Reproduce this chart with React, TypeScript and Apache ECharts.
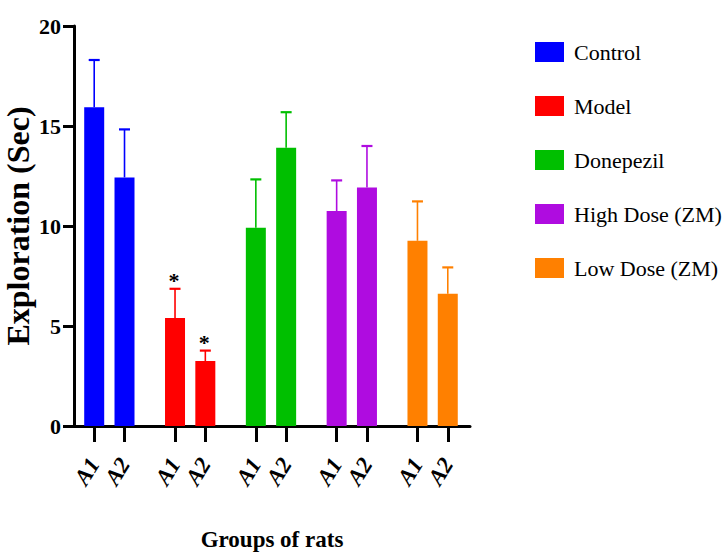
import React, { useEffect, useRef } from "react";
import * as echarts from "echarts";

const groups = ["Control", "Model", "Donepezil", "High Dose (ZM)", "Low Dose (ZM)"];
const subLabels = ["A1", "A2"];
const colors = ["#0000FF", "#FF0000", "#00BF00", "#AF0CE0", "#FF8000"];

// means for A1, A2 per group
const controlMean = [15.94, 12.43];
const modelMean = [5.4, 3.25];
const donepezilMean = [9.91, 13.91];
const highDoseMean = [10.75, 11.93];
const lowDoseMean = [9.26, 6.61];

// upper error (SEM) for A1, A2 per group
const controlErr = [2.36, 2.4];
const modelErr = [1.46, 0.52];
const donepezilErr = [2.42, 1.78];
const highDoseErr = [1.53, 2.07];
const lowDoseErr = [1.97, 1.32];

// significance marks
const controlSig = ["", ""];
const modelSig = ["*", "*"];
const donepezilSig = ["", ""];
const highDoseSig = ["", ""];
const lowDoseSig = ["", ""];

const yTicks = [0, 5, 10, 15, 20];

const allMeans = [controlMean, modelMean, donepezilMean, highDoseMean, lowDoseMean];
const allErrs = [controlErr, modelErr, donepezilErr, highDoseErr, lowDoseErr];
const allSigs = [controlSig, modelSig, donepezilSig, highDoseSig, lowDoseSig];

// x positions on a value axis: pairs within a group 3 apart, groups 8 apart
const posOf = (g: number, s: number) => 2 + 8 * g + 3 * s;

export default function App() {
  const ref = useRef<HTMLDivElement>(null);

  useEffect(() => {
    if (!ref.current) return;
    const chart = echarts.init(ref.current, null, { renderer: "svg" });

    const positions: number[] = [];
    const labelAt: Record<number, string> = {};
    const errData: number[][] = [];
    const sigList: string[] = [];
    groups.forEach((_, g) => {
      subLabels.forEach((lab, s) => {
        const p = posOf(g, s);
        positions.push(p);
        labelAt[p] = lab;
        errData.push([p, allMeans[g][s], allErrs[g][s], g]);
        sigList.push(allSigs[g][s]);
      });
    });

    const barSeries = groups.map((name, g) => ({
      name,
      type: "bar",
      barWidth: 20,
      barGap: "-100%",
      itemStyle: { color: colors[g] },
      data: subLabels.map((_, s) => [posOf(g, s), allMeans[g][s]]),
      z: 2,
    }));

    const font = "'Liberation Serif', 'Times New Roman', serif";

    chart.setOption({
      animation: false,
      grid: {
        left: 74,
        top: 26,
        width: 396,
        height: 400,
        containLabel: false,
        outerBoundsMode: "none",
      },
      legend: {
        data: groups,
        orient: "vertical",
        left: 530,
        top: 36,
        itemWidth: 29,
        itemHeight: 20,
        itemGap: 32,
        icon: "rect",
        selectedMode: false,
        textStyle: {
          fontFamily: font,
          fontSize: 22,
          color: "#000",
          lineHeight: 20,
          padding: [0, 0, 0, 5],
        },
      },
      xAxis: {
        type: "value",
        min: 0,
        max: 39.2,
        name: "Groups of rats",
        nameLocation: "middle",
        nameGap: 102,
        nameMoveOverlap: false,
        nameTextStyle: { fontFamily: font, fontWeight: "bold", fontSize: 23, color: "#000" },
        splitLine: { show: false },
        axisLine: { show: true, onZero: false, lineStyle: { color: "#000", width: 3 } },
        axisTick: { show: true, customValues: positions, length: 16, lineStyle: { color: "#000", width: 3 } },
        axisLabel: {
          customValues: positions,
          formatter: (v: number) => labelAt[Math.round(v)] ?? "",
          rotate: 58,
          margin: 34,
          fontFamily: font,
          fontWeight: "bold",
          fontStyle: "italic",
          fontSize: 23,
          color: "#000",
        },
      },
      yAxis: {
        type: "value",
        min: 0,
        max: 20,
        interval: 5,
        name: "Exploration (Sec)",
        nameLocation: "middle",
        nameGap: 40,
        nameMoveOverlap: false,
        nameTextStyle: { fontFamily: font, fontWeight: "bold", fontSize: 32, color: "#000" },
        splitLine: { show: false },
        axisLine: { show: true, lineStyle: { color: "#000", width: 3 } },
        axisTick: { show: true, length: 11, lineStyle: { color: "#000", width: 3 } },
        axisLabel: {
          margin: 13,
          fontFamily: font,
          fontWeight: "bold",
          fontSize: 22,
          color: "#000",
          customValues: yTicks,
        },
      },
      series: [
        ...barSeries,
        {
          type: "custom",
          name: "errors",
          z: 3,
          data: errData,
          encode: { x: 0, y: 1 },
          renderItem: (params: any, api: any) => {
            const x = api.value(0);
            const m = api.value(1);
            const e = api.value(2);
            const g = api.value(3);
            const c = colors[g];
            const base = api.coord([x, m]);
            const top = api.coord([x, m + e]);
            const children: any[] = [
              {
                type: "line",
                shape: { x1: base[0], y1: base[1], x2: top[0], y2: top[1] },
                style: { stroke: c, lineWidth: 1.6 },
              },
              {
                type: "line",
                shape: { x1: top[0] - 5.5, y1: top[1], x2: top[0] + 5.5, y2: top[1] },
                style: { stroke: c, lineWidth: 2.2 },
              },
            ];
            const sig = sigList[params.dataIndex];
            if (sig) {
              children.push({
                type: "text",
                x: top[0] - 1,
                y: top[1] + 3,
                style: {
                  text: sig,
                  fill: "#000",
                  fontFamily: font,
                  fontWeight: "bold",
                  fontSize: 22,
                  align: "center",
                  verticalAlign: "bottom",
                },
              });
            }
            return { type: "group", children };
          },
        },
      ],
    });

    return () => chart.dispose();
  }, []);

  return (
    <div
      ref={ref}
      style={{ position: "fixed", left: 0, top: 0, width: 726, height: 557, background: "#fff" }}
    />
  );
}
